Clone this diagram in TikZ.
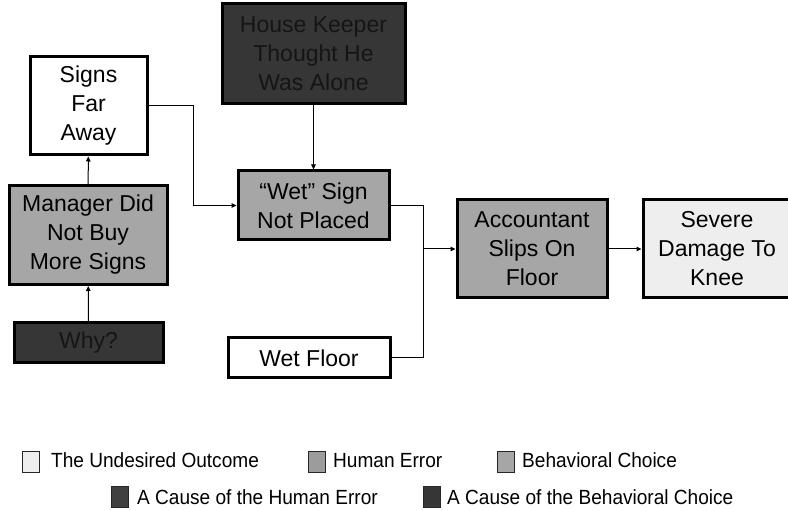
\documentclass[tikz,border=0pt]{standalone}
\usepackage{fontspec}
\setmainfont{Liberation Sans}
\newfontfamily\legendfont[FakeStretch=0.93]{Liberation Sans}
\usetikzlibrary{arrows.meta}

% fills for the categories of the analysis
\definecolor{outcomefill}{HTML}{EEEEEE}
\definecolor{errorfill}{HTML}{A6A6A6}
\definecolor{humanerrfill}{HTML}{9C9C9C}
\definecolor{causefill}{HTML}{363636}
\definecolor{humancausefill}{HTML}{404040}
\definecolor{causetext}{HTML}{151515}

\tikzset{
  box/.style={draw=black, line width=3pt, align=center, inner sep=0pt,
              font=\fontsize{23}{29}\selectfont},
  plainbox/.style={box, fill=white},
  errorbox/.style={box, fill=errorfill},
  causebox/.style={box, fill=causefill, text=causetext},
  outcomebox/.style={box, fill=outcomefill},
  link/.style={line width=1pt, -{Triangle[length=5pt,width=4.5pt]}},
  joinline/.style={line width=1pt},
  keybox/.style={draw=black!85, line width=0.9pt, minimum width=17pt,
                 minimum height=21pt, inner sep=0pt},
  keytext/.style={anchor=base west, inner sep=0pt,
                  font=\legendfont\fontsize{20.5}{24}\selectfont},
}

\begin{document}
\begin{tikzpicture}[x=1pt, y=-1pt]
  \useasboundingbox (0,0) rectangle (788,510);

  % boxes of the chain of events
  \node[plainbox,  minimum width=117pt, minimum height=98pt] (signs)    at (88.5,106)  {Signs\\Far\\Away};
  \node[errorbox,  minimum width=158pt, minimum height=99pt] (manager)  at (88,235)    {Manager Did\\Not Buy\\More Signs};
  \node[causebox,  minimum width=149pt, minimum height=40pt] (why)      at (88.5,343)  {Why?};
  \node[causebox,  minimum width=183pt, minimum height=100pt] (house)   at (313.5,54)  {House Keeper\\Thought He\\Was Alone};
  \node[errorbox,  minimum width=151pt, minimum height=69pt] (wetsign)  at (313.5,205.5) {“Wet” Sign\\Not Placed};
  \node[plainbox,  minimum width=162pt, minimum height=40pt] (wetfloor) at (309,358)    {Wet Floor};
  \node[errorbox,  minimum width=150pt, minimum height=98pt] (acct)     at (532,249)    {Accountant\\Slips On\\Floor};
  \node[outcomebox,minimum width=148pt, minimum height=98pt] (severe)   at (717,249)    {Severe\\Damage To\\Knee};

  % bend columns of the elbow connectors
  \coordinate (bendA) at (193,0);
  \coordinate (bendB) at (423,0);

  % connectors
  \draw[link] (why) -- (manager);
  \draw[link] (manager) -- (signs);
  \draw[link] (signs.east) -- (signs.east -| bendA) |- (wetsign.west);
  \draw[link] (house) -- (wetsign);
  \draw[link] (wetsign.east) -- (wetsign.east -| bendB) |- (acct.west);
  \draw[joinline] (wetfloor.east) -| (bendB |- acct.west);
  \draw[link] (acct) -- (severe);

  % legend
  \node[keybox, fill=outcomefill]    (k1) at (31,462)  {};
  \node[keytext] (t1) at (51,468)  {The Undesired Outcome};
  \node[keybox, fill=humanerrfill]   (k2) at (317,462) {};
  \node[keytext] (t2) at (333,468) {Human Error};
  \node[keybox, fill=errorfill]      (k3) at (506,462) {};
  \node[keytext] (t3) at (522,468) {Behavioral Choice};
  \node[keybox, fill=humancausefill] (k4) at (120,497) {};
  \node[keytext] (t4) at (137,505) {A Cause of the Human Error};
  \node[keybox, fill=causefill]      (k5) at (432,497) {};
  \node[keytext] (t5) at (447,505) {A Cause of the Behavioral Choice};
\end{tikzpicture}
\end{document}
